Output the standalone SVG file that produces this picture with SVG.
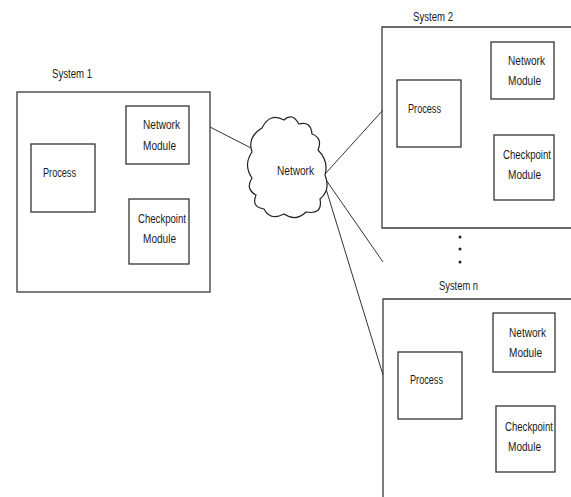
<svg xmlns="http://www.w3.org/2000/svg" width="571" height="497" viewBox="0 0 571 497">
<style>
.sys{fill:none;stroke:#3a3a3a;stroke-width:1.3}
.box{fill:#fff;stroke:#333;stroke-width:1.3}
.t{font-family:"Liberation Sans",Arial,sans-serif;font-size:13px;fill:#1c1c1c}
.c{stroke:#333;stroke-width:1;fill:none}
</style>
<rect width="571" height="497" fill="#fff"/>
<g id="connectors">
<line class="c" x1="210" y1="127" x2="253" y2="149"/>
<line class="c" x1="325" y1="174" x2="383" y2="110"/>
<line class="c" x1="324" y1="177" x2="383" y2="262"/>
<line class="c" x1="323" y1="179" x2="383" y2="375"/>
</g>
<g id="system1">
<text class="t" x="52" y="78" textLength="40" lengthAdjust="spacingAndGlyphs">System 1</text>
<rect class="sys" x="17" y="92" width="193" height="200"/>
<g id="s1-network"><rect class="box" x="126" y="106" width="63" height="58"/>
<text class="t" x="143" y="129" textLength="37" lengthAdjust="spacingAndGlyphs">Network</text>
<text class="t" x="143" y="150" textLength="33" lengthAdjust="spacingAndGlyphs">Module</text></g>
<g id="s1-process"><rect class="box" x="31" y="144" width="64" height="68"/>
<text class="t" x="43" y="177" textLength="33" lengthAdjust="spacingAndGlyphs">Process</text></g>
<g id="s1-checkpoint"><rect class="box" x="129" y="199" width="60" height="65"/>
<text class="t" x="138" y="223" textLength="48" lengthAdjust="spacingAndGlyphs">Checkpoint</text>
<text class="t" x="143" y="243" textLength="33" lengthAdjust="spacingAndGlyphs">Module</text></g>
</g>
<g id="network">
<path fill="#fff" stroke="#222" stroke-width="1.2" d="M262,128 Q270,112 284,120 Q292,112 299,124 Q311,121 312,134 Q323,138 318,150 Q329,161 325,175 Q331,190 320,199 Q323,215 306,212 Q296,222 284,214 Q270,221 264,209 Q251,207 256,195 Q245,189 252,178 Q243,165 252,152 Q247,137 262,128 Z"/>
<text class="t" x="277" y="175" textLength="37" lengthAdjust="spacingAndGlyphs">Network</text>
</g>
<g id="system2">
<text class="t" x="413" y="21" textLength="40" lengthAdjust="spacingAndGlyphs">System 2</text>
<path class="sys" d="M575,27 H382 V228 H575"/>
<g id="s2-network"><rect class="box" x="491" y="42" width="63" height="57"/>
<text class="t" x="508" y="65" textLength="37" lengthAdjust="spacingAndGlyphs">Network</text>
<text class="t" x="508" y="85" textLength="33" lengthAdjust="spacingAndGlyphs">Module</text></g>
<g id="s2-process"><rect class="box" x="397" y="80" width="64" height="67"/>
<text class="t" x="408" y="113" textLength="33" lengthAdjust="spacingAndGlyphs">Process</text></g>
<g id="s2-checkpoint"><rect class="box" x="494" y="135" width="60" height="65"/>
<text class="t" x="503" y="159" textLength="48" lengthAdjust="spacingAndGlyphs">Checkpoint</text>
<text class="t" x="508" y="179" textLength="33" lengthAdjust="spacingAndGlyphs">Module</text></g>
</g>
<g id="dots" fill="#222">
<circle cx="460" cy="237" r="1.5"/><circle cx="460" cy="249" r="1.5"/><circle cx="460" cy="262" r="1.5"/>
</g>
<g id="systemn">
<text class="t" x="439" y="290" textLength="39" lengthAdjust="spacingAndGlyphs">System n</text>
<path class="sys" d="M575,299 H383 V500"/>
<g id="sn-network"><rect class="box" x="493" y="313" width="62" height="59"/>
<text class="t" x="509" y="337" textLength="37" lengthAdjust="spacingAndGlyphs">Network</text>
<text class="t" x="509" y="357" textLength="33" lengthAdjust="spacingAndGlyphs">Module</text></g>
<g id="sn-process"><rect class="box" x="398" y="352" width="64" height="67"/>
<text class="t" x="410" y="384" textLength="33" lengthAdjust="spacingAndGlyphs">Process</text></g>
<g id="sn-checkpoint"><rect class="box" x="496" y="406" width="59" height="66"/>
<text class="t" x="505" y="431" textLength="48" lengthAdjust="spacingAndGlyphs">Checkpoint</text>
<text class="t" x="508" y="451" textLength="33" lengthAdjust="spacingAndGlyphs">Module</text></g>
</g>
</svg>
